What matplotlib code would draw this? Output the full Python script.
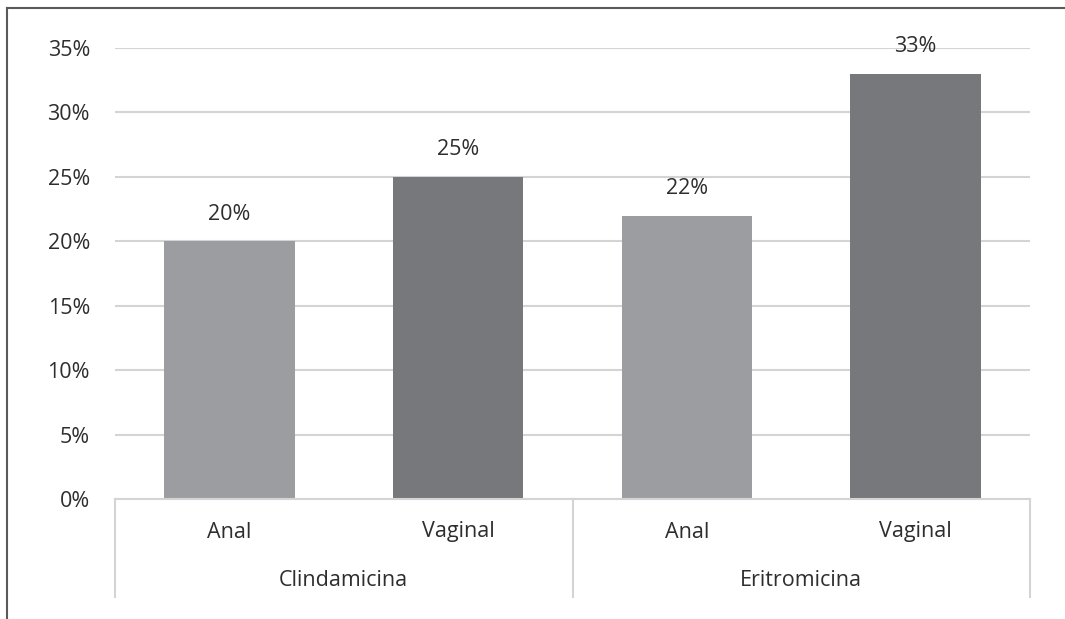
import matplotlib.pyplot as plt
from matplotlib.lines import Line2D
from matplotlib.ticker import PercentFormatter, MultipleLocator

plt.rcParams['font.family'] = ['Open Sans', 'DejaVu Sans']

# Data
groups = ['Clindamicina', 'Eritromicina']
sites = ['Anal', 'Vaginal']
values = [0.20, 0.25, 0.22, 0.33]
bar_colors = ['#9c9da1', '#77787c', '#9c9da1', '#77787c']
text_color = '#2e2e2e'
grid_color = '#d4d4d4'
fs = 15.5

W, H = 1065, 619
fig = plt.figure(figsize=(W / 100, H / 100), dpi=100)
ax = fig.add_axes([115 / W, 1 - 499 / H, (1030 - 115) / W, (499 - 48) / H])

x = list(range(len(values)))
ax.bar(x, values, width=0.57, color=bar_colors, zorder=2)
ax.set_xlim(-0.5, len(values) - 0.5)
ax.set_ylim(0, 0.35)

for xi, v in zip(x, values):
    ax.annotate(f'{v * 100:.0f}%', (xi, v), xytext=(0, 27), textcoords='offset pixels',
                ha='center', va='center', fontsize=fs, color=text_color)

ax.yaxis.set_major_locator(MultipleLocator(0.05))
ax.yaxis.set_major_formatter(PercentFormatter(1.0, decimals=0))
ax.tick_params(axis='y', length=0, pad=18, labelsize=fs, labelcolor=text_color)
ax.set_xticks([])
ax.grid(axis='y', color=grid_color, linewidth=1.5, zorder=0)
for side in ['top', 'right', 'left']:
    ax.spines[side].set_visible(False)
ax.spines['bottom'].set_color(grid_color)
ax.spines['bottom'].set_linewidth(1.5)

# two-level category axis
trans = ax.get_xaxis_transform()
sep_bottom = -(597 - 499) / (499 - 48)
for sx in [-0.5, 1.5, 3.5]:
    ax.add_line(Line2D([sx, sx], [0, sep_bottom], transform=trans, color=grid_color,
                       linewidth=1.5, clip_on=False))
site_y = -(532 - 499) / (499 - 48)
group_y = -(580 - 499) / (499 - 48)
for i, xi in enumerate(x):
    ax.text(xi, site_y, sites[i % 2], transform=trans, ha='center', va='center',
            fontsize=fs, color=text_color)
for g, name in enumerate(groups):
    ax.text(2 * g + 0.5, group_y, name, transform=trans, ha='center', va='center',
            fontsize=fs, color=text_color)

# outer frame: only the left and top edges fall inside the image
fx, fy = 7 / W, 1 - 8 / H
fig.add_artist(Line2D([fx, fx], [0, fy], transform=fig.transFigure, color='#5a5a5a', linewidth=1.5))
fig.add_artist(Line2D([fx, 1], [fy, fy], transform=fig.transFigure, color='#5a5a5a', linewidth=1.5))

fig.savefig('out.png', dpi=100)
